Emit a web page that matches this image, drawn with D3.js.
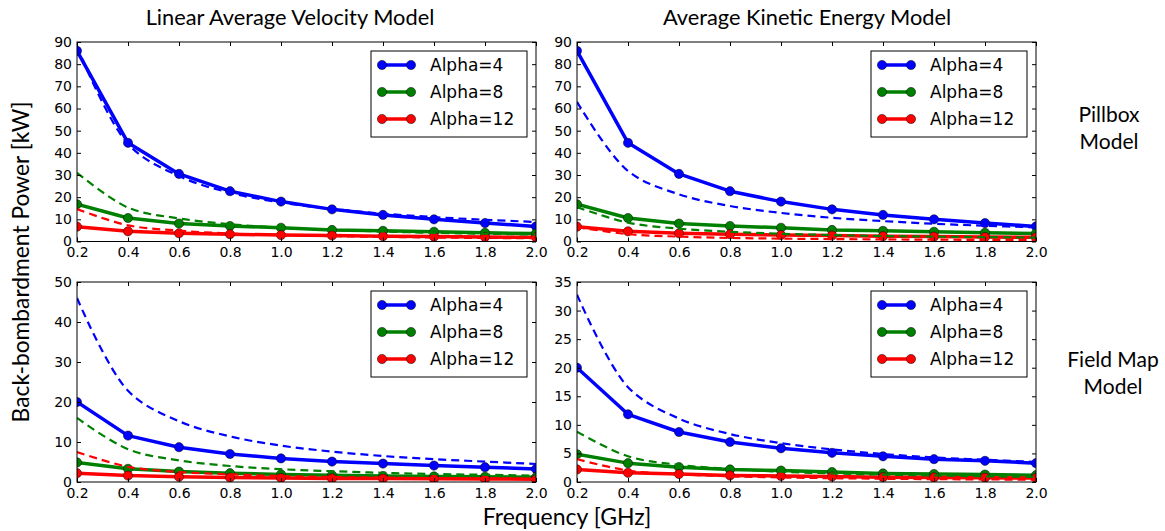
<!DOCTYPE html>
<html>
<head>
<meta charset="utf-8">
<script src="https://cdn.jsdelivr.net/npm/d3@7"></script>
<style>
  body { margin: 0; background: #fff; }
  .tick text { font-family: "DejaVu Sans", sans-serif; font-size: 14px; fill: #000; }
  .lbl { font-family: Lato, "Open Sans", sans-serif; font-size: 21px; fill: #000; }
</style>
</head>
<body>
<div id="chart"></div>
<script>
// frequency points [GHz]
var freq = [0.2, 0.4, 0.6, 0.8, 1.0, 1.2, 1.4, 1.6, 1.8, 2.0];
var xTickLabels = ["0.2","0.4","0.6","0.8","1.0","1.2","1.4","1.6","1.8","2.0"];
var seriesNames = ["Alpha=4", "Alpha=8", "Alpha=12"];

// Pillbox model, linear average velocity (solid = points, dashed = curve)
var pillLin4 = [86, 44.5, 30.5, 22.7, 18, 14.5, 12, 10, 8.3, 6.8];
var pillLin8 = [16.8, 10.6, 8.1, 7.0, 6.2, 5.2, 4.8, 4.4, 3.9, 3.6];
var pillLin12 = [6.7, 4.6, 3.7, 3.3, 2.9, 2.7, 2.4, 2.2, 2.0, 1.9];
var pillLinD4 = [88, 44, 29.5, 22, 17.6, 14.7, 12.6, 11, 9.8, 8.8];
var pillLinD8 = [31, 15.3, 10.4, 7.8, 6.2, 5.2, 4.5, 3.9, 3.5, 3.1];
var pillLinD12 = [14.6, 7.3, 4.9, 3.6, 2.9, 2.4, 2.1, 1.8, 1.6, 1.5];

// Pillbox model, average kinetic energy
var pillKin4 = [86, 44.5, 30.5, 22.7, 18, 14.5, 12, 10, 8.3, 6.8];
var pillKin8 = [16.8, 10.6, 8.1, 7.0, 6.2, 5.2, 4.8, 4.4, 3.9, 3.6];
var pillKin12 = [6.7, 4.6, 3.7, 3.3, 2.9, 2.7, 2.4, 2.2, 2.0, 1.9];
var pillKinD4 = [63, 31.8, 21.3, 16, 12.9, 10.7, 9.2, 8.0, 7.1, 6.4];
var pillKinD8 = [15.5, 8.5, 5.8, 4.4, 3.5, 2.9, 2.5, 2.2, 1.95, 1.75];
var pillKinD12 = [6.5, 3.3, 2.2, 1.6, 1.3, 1.1, 0.95, 0.82, 0.73, 0.65];

// Field map model, linear average velocity
var mapLin4 = [20, 11.6, 8.7, 7.0, 5.9, 5.1, 4.6, 4.1, 3.7, 3.25];
var mapLin8 = [4.9, 3.3, 2.6, 2.2, 1.9, 1.7, 1.5, 1.4, 1.3, 1.2];
var mapLin12 = [2.2, 1.6, 1.3, 1.1, 1.0, 0.9, 0.85, 0.8, 0.75, 0.7];
var mapLinD4 = [46, 22.8, 15.2, 11.4, 9.1, 7.6, 6.5, 5.7, 5.1, 4.5];
var mapLinD8 = [16, 8.2, 5.4, 4.0, 3.2, 2.7, 2.3, 2.0, 1.8, 1.6];
var mapLinD12 = [7.5, 3.8, 2.5, 1.9, 1.5, 1.25, 1.07, 0.94, 0.83, 0.75];

// Field map model, average kinetic energy
var mapKin4 = [20, 11.85, 8.75, 7.0, 5.9, 5.1, 4.5, 4.0, 3.7, 3.3];
var mapKin8 = [4.85, 3.3, 2.6, 2.2, 2.0, 1.75, 1.5, 1.4, 1.3, 1.2];
var mapKin12 = [2.2, 1.6, 1.4, 1.15, 1.05, 0.95, 0.85, 0.8, 0.75, 0.7];
var mapKinD4 = [32.8, 16.6, 11.1, 8.4, 6.8, 5.7, 4.9, 4.3, 3.9, 3.5];
var mapKinD8 = [8.8, 4.5, 3.0, 2.3, 1.8, 1.5, 1.3, 1.15, 1.0, 0.9];
var mapKinD12 = [4.0, 2.0, 1.35, 1.0, 0.8, 0.67, 0.57, 0.5, 0.45, 0.4];

var ticks90 = [0, 10, 20, 30, 40, 50, 60, 70, 80, 90];
var ticks50 = [0, 10, 20, 30, 40, 50];
var ticks35 = [0, 5, 10, 15, 20, 25, 30, 35];

var colors = ["#0000ff", "#008000", "#ff0000"];

var svg = d3.select("#chart").append("svg")
    .attr("width", 1165)
    .attr("height", 531)
    .style("display", "block");
svg.append("rect").attr("width", 1165).attr("height", 531).attr("fill", "#fff");

var panels = [
  {left: 77, top: 42, right: 536, bottom: 241.5, yMax: 90, yTicks: ticks90,
   solid: [pillLin4, pillLin8, pillLin12], dashed: [pillLinD4, pillLinD8, pillLinD12]},
  {left: 577, top: 42, right: 1036, bottom: 241.5, yMax: 90, yTicks: ticks90,
   solid: [pillKin4, pillKin8, pillKin12], dashed: [pillKinD4, pillKinD8, pillKinD12]},
  {left: 77, top: 282, right: 536, bottom: 482, yMax: 50, yTicks: ticks50,
   solid: [mapLin4, mapLin8, mapLin12], dashed: [mapLinD4, mapLinD8, mapLinD12]},
  {left: 577, top: 282, right: 1036, bottom: 482, yMax: 35, yTicks: ticks35,
   solid: [mapKin4, mapKin8, mapKin12], dashed: [mapKinD4, mapKinD8, mapKinD12]}
];

panels.forEach(function(p, pi) {
  var w = p.right - p.left, h = p.bottom - p.top;
  var x = d3.scaleLinear().domain([0.2, 2.0]).range([0, w]);
  var y = d3.scaleLinear().domain([0, p.yMax]).range([h, 0]);

  var g = svg.append("g").attr("transform", "translate(" + p.left + "," + p.top + ")");

  g.append("clipPath").attr("id", "clip" + pi)
    .append("rect").attr("width", w).attr("height", h);

  var plot = g.append("g").attr("clip-path", "url(#clip" + pi + ")");

  var line = d3.line()
      .x(function(d, i) { return x(freq[i]); })
      .y(function(d) { return y(d); });
  var curve = d3.line()
      .x(function(d, i) { return x(freq[i]); })
      .y(function(d) { return y(d); })
      .curve(d3.curveCatmullRom.alpha(0.5));

  // solid lines with markers
  p.solid.forEach(function(s, k) {
    plot.append("path")
      .datum(s)
      .attr("fill", "none")
      .attr("stroke", colors[k])
      .attr("stroke-width", 3.5)
      .attr("stroke-linejoin", "round")
      .attr("d", line);
    plot.selectAll(".m" + k)
      .data(s)
      .enter()
      .append("circle")
      .attr("class", "m" + k)
      .attr("cx", function(d, i) { return x(freq[i]); })
      .attr("cy", function(d) { return y(d); })
      .attr("r", 4.6)
      .attr("fill", colors[k])
      .attr("stroke", "#000")
      .attr("stroke-width", 0.5);
  });

  // dashed curves
  p.dashed.forEach(function(s, k) {
    plot.append("path")
      .datum(s)
      .attr("fill", "none")
      .attr("stroke", colors[k])
      .attr("stroke-width", 2.2)
      .attr("stroke-dasharray", "8,5")
      .attr("d", curve);
  });

  // axes, ticks pointing inwards on all four sides
  var xb = g.append("g").attr("transform", "translate(0," + h + ")")
    .call(d3.axisBottom(x).tickValues(freq).tickSize(-4).tickPadding(6)
      .tickFormat(function(d, i) { return xTickLabels[i]; }));
  var xt = g.append("g")
    .call(d3.axisTop(x).tickValues(freq).tickSize(-4).tickFormat(""));
  var yl = g.append("g")
    .call(d3.axisLeft(y).tickValues(p.yTicks).tickSize(-4).tickPadding(5));
  var yr = g.append("g").attr("transform", "translate(" + w + ",0)")
    .call(d3.axisRight(y).tickValues(p.yTicks).tickSize(-4).tickFormat(""));
  [xb, xt, yl, yr].forEach(function(a) {
    a.select(".domain").remove();
    a.attr("font-family", null).attr("font-size", null);
    a.selectAll("line").attr("stroke", "#000");
  });

  g.append("rect")
    .attr("width", w).attr("height", h)
    .attr("fill", "none").attr("stroke", "#000").attr("stroke-width", 1);

  // legend
  var lw = 156, lh = 86;
  var lg = g.append("g").attr("transform", "translate(" + (w - 9 - lw) + ",9)");
  lg.append("rect")
    .attr("width", lw).attr("height", lh)
    .attr("fill", "#fff").attr("stroke", "#000").attr("stroke-width", 1);
  seriesNames.forEach(function(name, k) {
    var ry = 14 + k * 27;
    lg.append("line")
      .attr("x1", 11).attr("x2", 40).attr("y1", ry).attr("y2", ry)
      .attr("stroke", colors[k]).attr("stroke-width", 3.5);
    [11, 40].forEach(function(mx) {
      lg.append("circle")
        .attr("cx", mx).attr("cy", ry).attr("r", 4.6)
        .attr("fill", colors[k]).attr("stroke", "#000").attr("stroke-width", 0.5);
    });
    lg.append("text")
      .attr("x", 59).attr("y", ry)
      .attr("dy", "0.36em")
      .style("font-family", "'DejaVu Sans', sans-serif")
      .style("font-size", "17px")
      .text(name);
  });
});

// titles and labels
svg.append("text").attr("class", "lbl").attr("x", 290).attr("y", 25)
  .style("font-size", "21.8px")
  .attr("text-anchor", "middle").text("Linear Average Velocity Model");
svg.append("text").attr("class", "lbl").attr("x", 807).attr("y", 25)
  .style("font-size", "21.8px")
  .attr("text-anchor", "middle").text("Average Kinetic Energy Model");
svg.append("text").attr("class", "lbl").attr("x", 567).attr("y", 525)
  .style("font-size", "23px")
  .attr("text-anchor", "middle").text("Frequency [GHz]");
svg.append("text").attr("class", "lbl")
  .attr("transform", "translate(29,262) rotate(-90)")
  .style("font-size", "22.8px")
  .attr("text-anchor", "middle").text("Back-bombardment Power [kW]");

var rowLabels = [["Pillbox", "Model", 1109, 121.5], ["Field Map", "Model", 1113, 366.5]];
rowLabels.forEach(function(r) {
  svg.append("text").attr("class", "lbl").attr("x", r[2]).attr("y", r[3])
    .attr("text-anchor", "middle").text(r[0]);
  svg.append("text").attr("class", "lbl").attr("x", r[2]).attr("y", r[3] + 27.5)
    .attr("text-anchor", "middle").text(r[1]);
});
</script>
</body>
</html>
